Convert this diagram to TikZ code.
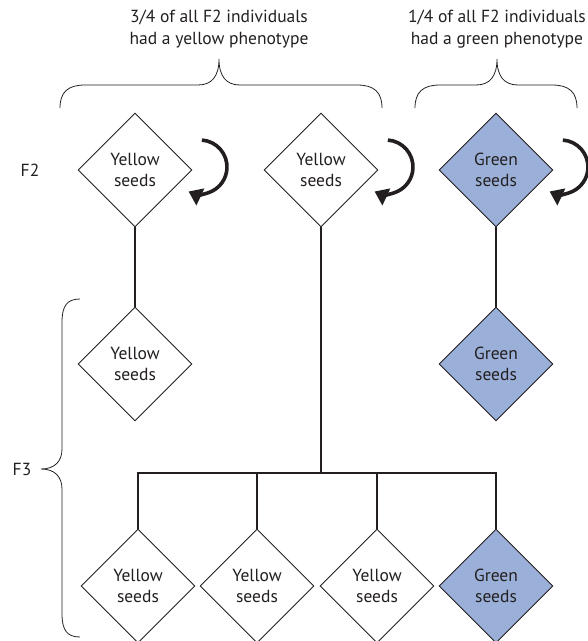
\documentclass[tikz,border=0pt]{standalone}
\usepackage{fontspec}
\setmainfont{PT Sans}
\usetikzlibrary{shapes.geometric,arrows.meta}
\definecolor{ink}{RGB}{35,31,32}
\definecolor{greenfill}{RGB}{155,176,216}
\tikzset{
  seed/.style={diamond, draw=ink, line width=0.9pt, minimum width=114pt, minimum height=114pt,
    inner sep=0pt, aspect=1, align=center, text=ink, font=\fontsize{17.5}{21}\selectfont},
  yseed/.style={seed, fill=white},
  gseed/.style={seed, fill=greenfill},
  link/.style={draw=ink, line width=2.4pt},
  selfarrow/.style={draw=ink, line width=3.6pt, -{Triangle[width=18pt,length=13pt]}},
  bracepath/.style={draw=ink, line width=0.8pt},
  lbl/.style={text=ink, font=\fontsize{17.5}{22}\selectfont, align=center}
}
\begin{document}
\begin{tikzpicture}[x=1pt,y=1pt]
\useasboundingbox (0,0) rectangle (588,-641);
% top labels
\node[lbl] (t1) at (219,-29) {3/4 of all F2 individuals\\had a yellow phenotype};
\node[lbl] (t2) at (497,-29) {1/4 of all F2 individuals\\had a green phenotype};
% top braces
\draw[bracepath] (60,-108) .. controls (60,-92) and (68,-85) .. (85,-85) -- (198,-85)
  .. controls (212,-85) and (219,-76) .. (219,-59)
  .. controls (219,-76) and (226,-85) .. (240,-85) -- (357,-85)
  .. controls (374,-85) and (382,-92) .. (382,-108);
\draw[bracepath] (415,-108) .. controls (415,-92) and (423,-85) .. (440,-85) -- (476,-85)
  .. controls (490,-85) and (497,-76) .. (497,-59)
  .. controls (497,-76) and (504,-85) .. (518,-85) -- (552,-85)
  .. controls (569,-85) and (577,-92) .. (577,-108);
% F3 brace
\draw[bracepath] (80,-299) .. controls (67,-299) and (62,-306) .. (62,-322) -- (62,-449)
  .. controls (62,-461) and (55,-469) .. (41,-469)
  .. controls (55,-469) and (62,-477) .. (62,-489) -- (62,-614)
  .. controls (62,-630) and (67,-637) .. (80,-637);
% generation labels
\node[lbl] (f2) at (30,-170) {F2};
\node[lbl] (f3) at (22,-469) {F3};
% F2
\node[yseed] (d1) at (135,-170) {Yellow\\seeds};
\node[yseed] (d2) at (321,-170) {Yellow\\seeds};
\node[gseed] (d3) at (496,-170) {Green\\seeds};
% F3 upper
\node[yseed] (e1) at (135,-364) {Yellow\\seeds};
\node[gseed] (e2) at (496,-364) {Green\\seeds};
% F3 lower
\node[yseed] (b1) at (138,-586) {Yellow\\seeds};
\node[yseed] (b2) at (257,-586) {Yellow\\seeds};
\node[yseed] (b3) at (377,-586) {Yellow\\seeds};
\node[gseed] (b4) at (496,-586) {Green\\seeds};
% connectors
\coordinate (hub) at (321,-473);
\coordinate (barL) at (138,-473);
\coordinate (barM2) at (257,-473);
\coordinate (barM3) at (377,-473);
\coordinate (barR) at (496,-473);
\draw[link] (d1.south) -- (e1.north);
\draw[link] (d3.south) -- (e2.north);
\draw[link] (d2.south) -- (hub);
\draw[link, line cap=rect] (barL) -- (barR);
\draw[link] (barL) -- (b1.north);
\draw[link] (barM2) -- (b2.north);
\draw[link] (barM3) -- (b3.north);
\draw[link] (barR) -- (b4.north);
% self-fertilisation arrows
\foreach \n in {d1,d2,d3}{
  \draw[selfarrow] ([shift={(65,3)}]\n.center) ++(86:27) arc[start angle=86, end angle=-115, radius=27];
}
\end{tikzpicture}
\end{document}
